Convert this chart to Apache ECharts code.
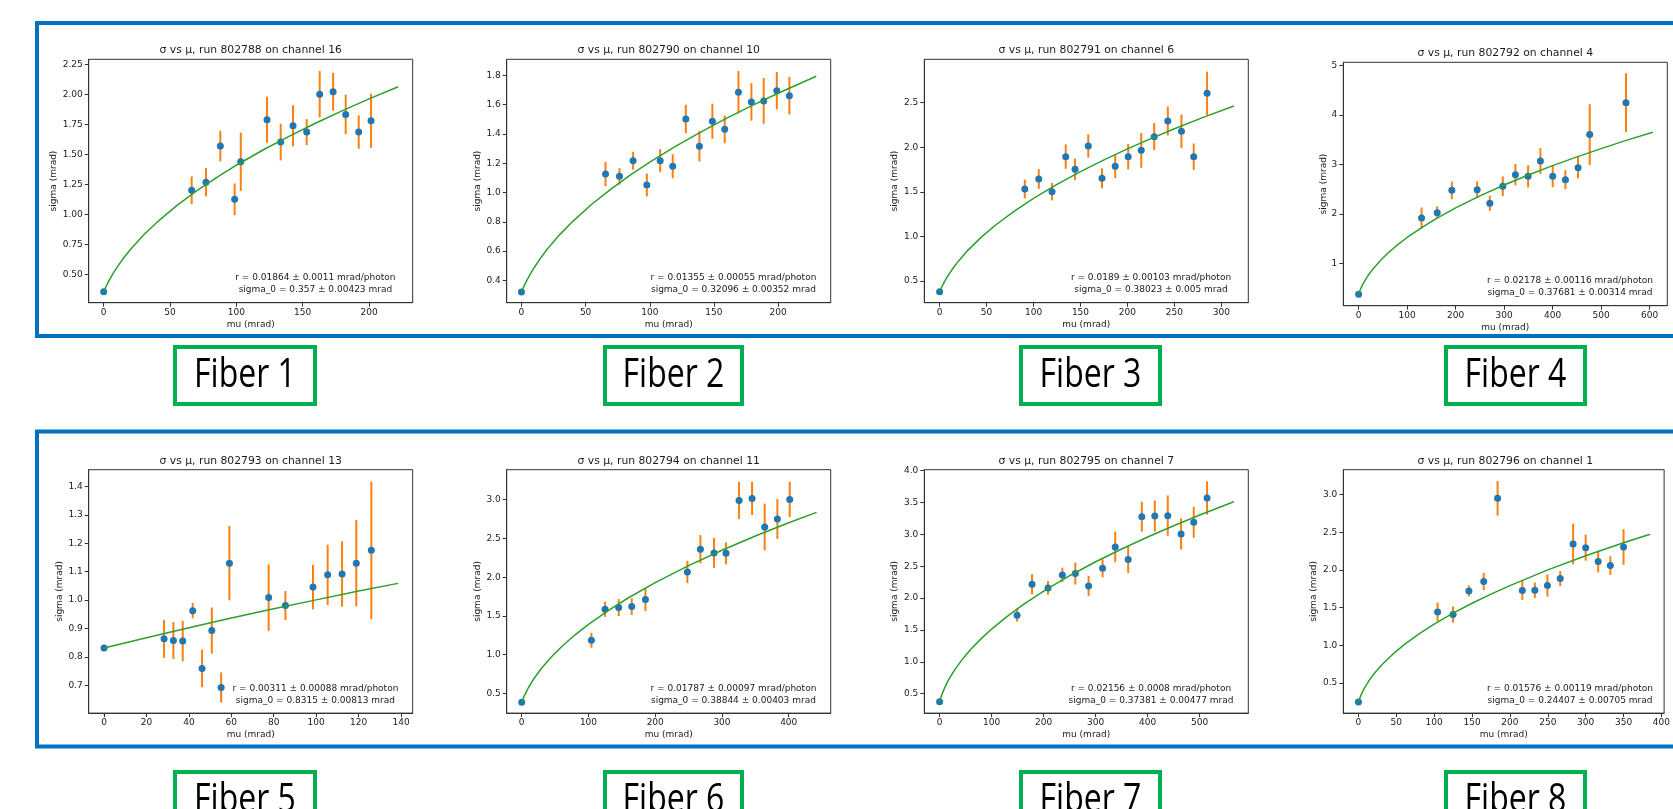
<!DOCTYPE html>
<html>
<head>
<meta charset="utf-8">
<script src="https://cdn.jsdelivr.net/npm/echarts@6.0.0/dist/echarts.min.js"></script>
<style>
html,body{margin:0;padding:0;background:#fff;overflow:hidden}
#c{width:1673px;height:809px}
</style>
</head>
<body>
<div id="c"></div>
<script>
// ---------------- DATA ----------------
const titles = [
  "σ vs μ, run 802788 on channel 16",
  "σ vs μ, run 802790 on channel 10",
  "σ vs μ, run 802791 on channel 6",
  "σ vs μ, run 802792 on channel 4",
  "σ vs μ, run 802793 on channel 13",
  "σ vs μ, run 802794 on channel 11",
  "σ vs μ, run 802795 on channel 7",
  "σ vs μ, run 802796 on channel 1"
];
const fiberLabels = ["Fiber 1","Fiber 2","Fiber 3","Fiber 4","Fiber 5","Fiber 6","Fiber 7","Fiber 8"];
const notes = [
  ["r = 0.01864 ± 0.0011 mrad/photon", "sigma_0 = 0.357 ± 0.00423 mrad"],
  ["r = 0.01355 ± 0.00055 mrad/photon", "sigma_0 = 0.32096 ± 0.00352 mrad"],
  ["r = 0.0189 ± 0.00103 mrad/photon", "sigma_0 = 0.38023 ± 0.005 mrad"],
  ["r = 0.02178 ± 0.00116 mrad/photon", "sigma_0 = 0.37681 ± 0.00314 mrad"],
  ["r = 0.00311 ± 0.00088 mrad/photon", "sigma_0 = 0.8315 ± 0.00813 mrad"],
  ["r = 0.01787 ± 0.00097 mrad/photon", "sigma_0 = 0.38844 ± 0.00403 mrad"],
  ["r = 0.02156 ± 0.0008 mrad/photon", "sigma_0 = 0.37381 ± 0.00477 mrad"],
  ["r = 0.01576 ± 0.00119 mrad/photon", "sigma_0 = 0.24407 ± 0.00705 mrad"]
];
const xAxisName = "mu (mrad)";
const yAxisName = "sigma (mrad)";

// Fiber 1
const mu1 = [0, 66.3, 77.1, 87.9, 98.7, 103.3, 123.1, 133.4, 142.7, 153.0, 162.8, 172.9, 182.4, 192.2, 201.5];
const sigma1 = [0.357, 1.202, 1.270, 1.571, 1.127, 1.440, 1.790, 1.604, 1.740, 1.687, 2.003, 2.023, 1.834, 1.687, 1.781];
const err1 = [0.004, 0.115, 0.118, 0.128, 0.132, 0.243, 0.192, 0.153, 0.171, 0.108, 0.193, 0.158, 0.165, 0.139, 0.225];
const fitMu1 = [0, 1, 2, 4, 7, 10, 15, 20, 30, 40, 55, 70, 85, 100, 120, 140, 160, 180, 200, 222];
const fitSigma1 = [0.357, 0.382, 0.406, 0.449, 0.508, 0.560, 0.638, 0.707, 0.829, 0.934, 1.074, 1.197, 1.308, 1.411, 1.538, 1.654, 1.763, 1.866, 1.964, 2.065];
const xTicks1 = [0, 50, 100, 150, 200];
const yTicks1 = [0.5, 0.75, 1.0, 1.25, 1.5, 1.75, 2.0, 2.25];

// Fiber 2
const mu2 = [0, 65.5, 76.4, 87.0, 97.7, 108.1, 117.9, 128.1, 138.7, 148.8, 158.4, 169.1, 179.2, 188.8, 199.0, 208.8];
const sigma2 = [0.321, 1.126, 1.110, 1.217, 1.051, 1.217, 1.179, 1.502, 1.315, 1.486, 1.431, 1.684, 1.618, 1.625, 1.695, 1.661];
const err2 = [0.004, 0.083, 0.056, 0.061, 0.078, 0.079, 0.082, 0.097, 0.103, 0.120, 0.095, 0.145, 0.128, 0.156, 0.127, 0.128];
const fitMu2 = [0, 1, 2, 4, 7, 10, 15, 20, 30, 40, 55, 70, 85, 100, 120, 140, 160, 180, 200, 229.7];
const fitSigma2 = [0.321, 0.341, 0.361, 0.396, 0.445, 0.488, 0.553, 0.612, 0.714, 0.803, 0.921, 1.025, 1.120, 1.207, 1.315, 1.414, 1.507, 1.594, 1.677, 1.793];
const xTicks2 = [0, 50, 100, 150, 200];
const yTicks2 = [0.4, 0.6, 0.8, 1.0, 1.2, 1.4, 1.6, 1.8];

// Fiber 3
const mu3 = [0, 90.7, 105.6, 119.7, 134.3, 144.2, 158.3, 172.9, 187.0, 200.8, 214.7, 228.5, 243.0, 257.5, 270.6, 284.8];
const sigma3 = [0.380, 1.532, 1.644, 1.502, 1.894, 1.752, 2.014, 1.651, 1.786, 1.894, 1.965, 2.119, 2.294, 2.178, 1.894, 2.605];
const err3 = [0.005, 0.105, 0.110, 0.098, 0.137, 0.120, 0.131, 0.113, 0.131, 0.142, 0.195, 0.152, 0.163, 0.189, 0.148, 0.243];
const fitMu3 = [0, 1, 2, 4, 7, 10, 15, 20, 30, 45, 60, 80, 100, 125, 150, 175, 200, 225, 250, 280, 313.3];
const fitSigma3 = [0.380, 0.404, 0.427, 0.469, 0.526, 0.578, 0.654, 0.723, 0.844, 0.998, 1.131, 1.287, 1.426, 1.583, 1.726, 1.858, 1.981, 2.097, 2.207, 2.332, 2.463];
const xTicks3 = [0, 50, 100, 150, 200, 250, 300];
const yTicks3 = [0.5, 1.0, 1.5, 2.0, 2.5];

// Fiber 4
const mu4 = [0, 129.7, 162.0, 192.2, 244.4, 270.5, 297.2, 323.3, 349.4, 374.8, 400.2, 426.3, 452.4, 476.4, 551.2];
const sigma4 = [0.377, 1.917, 2.025, 2.477, 2.491, 2.214, 2.558, 2.794, 2.761, 3.071, 2.761, 2.693, 2.936, 3.604, 4.251];
const err4 = [0.003, 0.213, 0.128, 0.179, 0.169, 0.152, 0.199, 0.216, 0.226, 0.260, 0.223, 0.193, 0.219, 0.614, 0.597];
const fitMu4 = [0, 1, 2, 4, 7, 10, 15, 20, 30, 45, 60, 80, 100, 130, 160, 200, 250, 300, 350, 400, 450, 500, 550, 606.3];
const fitSigma4 = [0.377, 0.405, 0.431, 0.479, 0.543, 0.600, 0.685, 0.760, 0.892, 1.059, 1.204, 1.373, 1.523, 1.724, 1.904, 2.121, 2.364, 2.584, 2.787, 2.976, 3.153, 3.321, 3.482, 3.653];
const xTicks4 = [0, 100, 200, 300, 400, 500, 600];
const yTicks4 = [1, 2, 3, 4, 5];

// Fiber 5
const mu5 = [0, 28.3, 32.7, 37.1, 41.8, 46.2, 50.8, 55.2, 59.1, 77.6, 85.5, 98.5, 105.4, 112.2, 118.9, 126.0];
const sigma5 = [0.8315, 0.864, 0.858, 0.856, 0.963, 0.760, 0.893, 0.693, 1.130, 1.009, 0.981, 1.046, 1.089, 1.092, 1.130, 1.175];
const err5 = [0.008, 0.067, 0.065, 0.071, 0.027, 0.066, 0.081, 0.053, 0.131, 0.117, 0.051, 0.078, 0.106, 0.115, 0.152, 0.242];
const fitMu5 = [0, 20, 40, 60, 80, 100, 120, 138.6];
const fitSigma5 = [0.8315, 0.868, 0.903, 0.937, 0.970, 1.001, 1.032, 1.059];
const xTicks5 = [0, 20, 40, 60, 80, 100, 120, 140];
const yTicks5 = [0.7, 0.8, 0.9, 1.0, 1.1, 1.2, 1.3, 1.4];

// Fiber 6
const mu6 = [0, 104.4, 124.8, 145.3, 164.8, 185.3, 248.2, 267.7, 288.1, 306.1, 325.6, 345.1, 364.0, 383.0, 401.5];
const sigma6 = [0.388, 1.187, 1.587, 1.608, 1.621, 1.711, 2.068, 2.360, 2.313, 2.308, 2.991, 3.017, 2.648, 2.751, 3.004];
const err6 = [0.004, 0.097, 0.097, 0.110, 0.108, 0.148, 0.144, 0.183, 0.193, 0.142, 0.239, 0.215, 0.301, 0.256, 0.228];
const fitMu6 = [0, 1, 2, 4, 7, 10, 15, 20, 30, 45, 60, 80, 100, 130, 160, 200, 250, 300, 350, 400, 441.7];
const fitSigma6 = [0.388, 0.411, 0.432, 0.472, 0.525, 0.574, 0.647, 0.713, 0.829, 0.977, 1.106, 1.257, 1.392, 1.573, 1.735, 1.930, 2.149, 2.348, 2.531, 2.702, 2.836];
const xTicks6 = [0, 100, 200, 300, 400];
const yTicks6 = [0.5, 1.0, 1.5, 2.0, 2.5, 3.0];

// Fiber 7
const mu7 = [0, 149.0, 177.7, 208.4, 235.9, 260.9, 286.4, 313.3, 337.6, 362.5, 388.7, 413.7, 438.6, 464.2, 488.5, 514.1];
const sigma7 = [0.374, 1.733, 2.218, 2.161, 2.365, 2.386, 2.192, 2.469, 2.804, 2.605, 3.279, 3.289, 3.295, 3.007, 3.190, 3.572];
const err7 = [0.005, 0.102, 0.157, 0.107, 0.113, 0.173, 0.157, 0.141, 0.240, 0.209, 0.235, 0.243, 0.317, 0.246, 0.243, 0.261];
const fitMu7 = [0, 1, 2, 4, 7, 10, 15, 20, 30, 45, 60, 80, 100, 130, 160, 200, 250, 300, 350, 400, 450, 500, 565.5];
const fitSigma7 = [0.374, 0.402, 0.428, 0.475, 0.539, 0.596, 0.681, 0.756, 0.887, 1.054, 1.197, 1.365, 1.515, 1.715, 1.895, 2.110, 2.352, 2.571, 2.772, 2.960, 3.137, 3.304, 3.512];
const xTicks7 = [0, 100, 200, 300, 400, 500];
const yTicks7 = [0.5, 1.0, 1.5, 2.0, 2.5, 3.0, 3.5, 4.0];

// Fiber 8
const mu8 = [0, 104.5, 124.9, 145.8, 165.4, 183.7, 216.4, 232.9, 249.5, 266.4, 283.4, 300.0, 316.5, 332.6, 350.0];
const sigma8 = [0.244, 1.442, 1.407, 1.721, 1.845, 2.951, 1.726, 1.730, 1.792, 1.885, 2.345, 2.296, 2.111, 2.058, 2.305];
const err8 = [0.007, 0.124, 0.106, 0.073, 0.115, 0.230, 0.124, 0.102, 0.148, 0.100, 0.270, 0.173, 0.144, 0.124, 0.237];
const fitMu8 = [0, 1, 2, 4, 7, 10, 15, 20, 30, 45, 60, 80, 100, 125, 150, 175, 200, 250, 300, 350, 385];
const fitSigma8 = [0.244, 0.274, 0.302, 0.350, 0.412, 0.466, 0.544, 0.612, 0.730, 0.877, 1.003, 1.149, 1.279, 1.425, 1.557, 1.679, 1.792, 2.000, 2.188, 2.361, 2.475];
const xTicks8 = [0, 50, 100, 150, 200, 250, 300, 350, 400];
const yTicks8 = [0.5, 1.0, 1.5, 2.0, 2.5, 3.0];

// axis extents (matplotlib auto-margins)
const xRanges = [[-11.3, 232.9], [-11.5, 241.0], [-16.3, 328.7], [-31.6, 636.4],
                 [-7.23, 145.5], [-22.5, 462.9], [-29.4, 593.4], [-20.0, 403.6]];
const yRanges = [[0.265, 2.294], [0.2475, 1.909], [0.257, 2.986], [0.143, 5.067],
                 [0.603, 1.4585], [0.247, 3.387], [0.196, 4.016], [0.097, 3.332]];
const yDecimals = [2, 1, 1, 0, 1, 1, 1, 1];

// ---------------- LAYOUT ----------------
const panels = [
  {mu: mu1, s: sigma1, e: err1, fx: fitMu1, fy: fitSigma1, xt: xTicks1, yt: yTicks1},
  {mu: mu2, s: sigma2, e: err2, fx: fitMu2, fy: fitSigma2, xt: xTicks2, yt: yTicks2},
  {mu: mu3, s: sigma3, e: err3, fx: fitMu3, fy: fitSigma3, xt: xTicks3, yt: yTicks3},
  {mu: mu4, s: sigma4, e: err4, fx: fitMu4, fy: fitSigma4, xt: xTicks4, yt: yTicks4},
  {mu: mu5, s: sigma5, e: err5, fx: fitMu5, fy: fitSigma5, xt: xTicks5, yt: yTicks5},
  {mu: mu6, s: sigma6, e: err6, fx: fitMu6, fy: fitSigma6, xt: xTicks6, yt: yTicks6},
  {mu: mu7, s: sigma7, e: err7, fx: fitMu7, fy: fitSigma7, xt: xTicks7, yt: yTicks7},
  {mu: mu8, s: sigma8, e: err8, fx: fitMu8, fy: fitSigma8, xt: xTicks8, yt: yTicks8}
];
const colLeft = [88.7, 506.7, 924.3, 1343.3];
const gridTops = [59.3, 59.3, 59.3, 62.3, 469.7, 469.7, 469.7, 469.7];
const gridW = 324, gridH = 243.4;
const yNameCenter = [35, 29.4, 29.3, 20, 29.4, 29.4, 29.3, 30];
const fiberBoxX = [[173, 317], [603, 744], [1019, 1162], [1444, 1587]];
const fiberBoxY = [[345, 406], [770, 831]];

const FONT = '"DejaVu Sans", "Liberation Sans", sans-serif';
const TXT = '#1a1a1a';
const SPINE = '#333';

const grids = [], xAxes = [], yAxes = [], series = [], graphics = [];

// blue frames
graphics.push({type: 'rect', z: 0, shape: {x: 37, y: 23, width: 1700, height: 313},
  style: {fill: 'none', stroke: '#0070C0', lineWidth: 4}});
graphics.push({type: 'rect', z: 0, shape: {x: 37, y: 431.5, width: 1700, height: 315},
  style: {fill: 'none', stroke: '#0070C0', lineWidth: 4}});

panels.forEach((p, i) => {
  const left = colLeft[i % 4], top = gridTops[i];
  grids.push({left: left, top: top, width: gridW, height: gridH, show: true,
    borderColor: SPINE, borderWidth: 1, backgroundColor: 'rgba(0,0,0,0)', containLabel: false});
  const dec = yDecimals[i];
  xAxes.push({
    type: 'value', gridIndex: i, min: xRanges[i][0], max: xRanges[i][1],
    axisLine: {show: true, onZero: false, lineStyle: {color: SPINE, width: 1}},
    axisTick: {show: true, inside: false, length: 4, customValues: p.xt, lineStyle: {color: SPINE, width: 1}},
    axisLabel: {show: true, customValues: p.xt, margin: 5, fontSize: 9, fontFamily: FONT, color: TXT,
      formatter: v => String(Math.round(v))},
    splitLine: {show: false},
    name: xAxisName, nameLocation: 'middle', nameGap: 17,
    nameTextStyle: {fontSize: 9, fontFamily: FONT, color: TXT}
  });
  yAxes.push({
    type: 'value', gridIndex: i, min: yRanges[i][0], max: yRanges[i][1],
    axisLine: {show: true, onZero: false, lineStyle: {color: SPINE, width: 1}},
    axisTick: {show: true, inside: false, length: 4, customValues: p.yt, lineStyle: {color: SPINE, width: 1}},
    axisLabel: {show: true, customValues: p.yt, margin: 6, fontSize: 9, fontFamily: FONT, color: TXT,
      formatter: v => Number(v).toFixed(dec)},
    splitLine: {show: false},
    name: yAxisName, nameLocation: 'middle', nameGap: yNameCenter[i] - 4.5,
    nameTextStyle: {fontSize: 9, fontFamily: FONT, color: TXT}
  });
  // error bars
  series.push({
    type: 'custom', xAxisIndex: i, yAxisIndex: i, z: 2, silent: true,
    data: p.mu.map((m, k) => [m, p.s[k] - p.e[k], p.s[k] + p.e[k]]),
    encode: {x: 0, y: [1, 2]},
    renderItem: (params, api) => {
      const a = api.coord([api.value(0), api.value(1)]);
      const b = api.coord([api.value(0), api.value(2)]);
      return {type: 'line', shape: {x1: a[0], y1: a[1], x2: b[0], y2: b[1]},
        style: {stroke: '#ff7f0e', lineWidth: 2}};
    }
  });
  // data points
  series.push({
    type: 'scatter', xAxisIndex: i, yAxisIndex: i, z: 3, symbol: 'circle', symbolSize: 7,
    itemStyle: {color: '#1f77b4', opacity: 1},
    data: p.mu.map((m, k) => [m, p.s[k]])
  });
  // fit curve
  series.push({
    type: 'line', xAxisIndex: i, yAxisIndex: i, z: 4, showSymbol: false, symbol: 'none',
    smooth: false,
    lineStyle: {color: '#2ca02c', width: 1.5},
    data: p.fx.map((m, k) => [m, p.fy[k]])
  });
  // title
  graphics.push({type: 'text', z: 10, x: left + gridW / 2, y: top - 8.7,
    style: {text: titles[i], fill: TXT, fontSize: 10.8, fontFamily: FONT,
      textAlign: 'center', align: 'center', textVerticalAlign: 'middle', verticalAlign: 'middle'}});
  // fit annotation
  graphics.push({type: 'text', z: 10, x: left + gridW - 97.3, y: top + gridH - 18.8,
    style: {text: notes[i].join('\n'), fill: TXT, fontSize: 9, fontFamily: FONT, lineHeight: 12,
      textAlign: 'center', align: 'center', textVerticalAlign: 'middle', verticalAlign: 'middle'}});
  // fiber label box + text
  const bx = fiberBoxX[i % 4], by = fiberBoxY[Math.floor(i / 4)];
  graphics.push({type: 'rect', z: 10, shape: {x: bx[0] + 2, y: by[0] + 2, width: bx[1] - bx[0] - 4, height: by[1] - by[0] - 4},
    style: {fill: 'none', stroke: '#00B050', lineWidth: 4}});
  graphics.push({type: 'text', z: 11, x: (bx[0] + bx[1]) / 2, y: (by[0] + by[1]) / 2, scaleX: 0.8,
    style: {text: fiberLabels[i], fill: '#000', fontSize: 40, fontFamily: '"Open Sans", "Noto Sans", sans-serif',
      textAlign: 'center', align: 'center', textVerticalAlign: 'middle', verticalAlign: 'middle'}});
});

const chart = echarts.init(document.getElementById('c'), null, {renderer: 'canvas', width: 1673, height: 809});
chart.setOption({
  backgroundColor: '#fff',
  animation: false,
  grid: grids,
  xAxis: xAxes,
  yAxis: yAxes,
  series: series,
  graphic: {elements: graphics}
});
</script>
</body>
</html>
